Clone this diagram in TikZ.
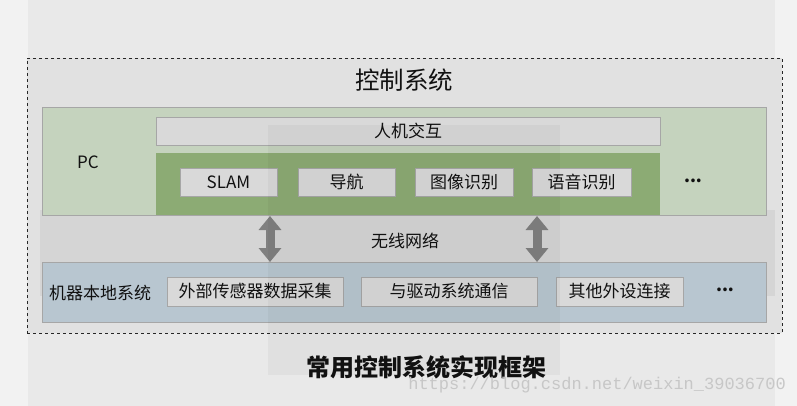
\documentclass[tikz,border=0pt]{standalone}
\usepackage{fontspec}
\setmainfont{Noto Sans CJK SC}
\newfontfamily\wmfont{Liberation Mono}
\usetikzlibrary{arrows.meta}
\definecolor{bgA}{HTML}{F2F2F2}
\definecolor{bgB}{HTML}{E9E9E9}
\definecolor{bgC}{HTML}{E1E1E1}
\definecolor{midgray}{HTML}{D5D5D5}
\definecolor{pcgreen}{HTML}{C5D3BE}
\definecolor{darkgreen}{HTML}{8CAB74}
\definecolor{bandblue}{HTML}{B8C6D0}
\definecolor{boxgray}{HTML}{D9D9D9}
\definecolor{edgegray}{HTML}{A6A6A6}
\definecolor{arrowgray}{HTML}{808080}
\definecolor{txt}{HTML}{111111}
\tikzset{
  band/.style={draw=edgegray, line width=0.8pt, inner sep=0pt, outer sep=0pt},
  itembox/.style={draw=edgegray, line width=0.8pt, fill=boxgray, inner sep=0pt, outer sep=0pt,
    minimum height=28pt, text=txt, font=\fontsize{17pt}{19pt}\selectfont},
  lbl/.style={inner sep=0pt, text=txt, font=\fontsize{17pt}{19pt}\selectfont},
  bigarrow/.style={draw=arrowgray, line width=9pt,
    {Triangle[width=22pt,length=14pt]}-{Triangle[width=22pt,length=14pt]}}
}
\begin{document}
\begin{tikzpicture}[x=1pt,y=-1pt]
\useasboundingbox (0,0) rectangle (797,406);
% background layers
\fill[bgA] (0,0) rectangle (797,406);
\fill[bgB] (28,0) rectangle (775,406);
\node[draw=black!85, dashed, line width=0.8pt, fill=bgC, inner sep=0pt, outer sep=0pt,
  minimum width=755pt, minimum height=275pt] (ctrl) at (404.5,195.5) {};
\fill[midgray] (40,210) rectangle (775,296);
\node[lbl, font=\fontsize{24.5pt}{27pt}\selectfont] (title) at (404,80) {控制系统};
% PC band
\node[band, fill=pcgreen, minimum width=724pt, minimum height=108pt] (pc) at (404,161) {};
\node[lbl, font=\fontsize{17pt}{19pt}\selectfont] (pclbl) at (88,162) {PC};
\node[itembox, minimum width=504pt] (hci) at (408,131) {人机交互};
\node[band, draw=none, fill=darkgreen, minimum width=504pt, minimum height=62pt] (algo) at (408,184) {};
\node[itembox, minimum width=97pt] (slam) at (228.5,182) {SLAM};
\node[itembox, minimum width=97pt] (nav) at (346.5,182) {导航};
\node[itembox, minimum width=98pt] (img) at (464,182) {图像识别};
\node[itembox, minimum width=99pt] (voice) at (581.5,182) {语音识别};
\node[lbl, font=\bfseries\fontsize{17pt}{19pt}\selectfont] (dots1) at (693,181) {...};
% wireless
\node[lbl] (wifi) at (405,241) {无线网络};
% local band
\node[band, fill=bandblue, minimum width=724pt, minimum height=60pt] (local) at (404,292) {};
\node[lbl] (loclbl) at (100,293) {机器本地系统};
\node[itembox, minimum width=176pt, minimum height=29pt] (sensor) at (255,291.5) {外部传感器数据采集};
\node[itembox, minimum width=176pt, minimum height=29pt] (drive) at (449,291.5) {与驱动系统通信};
\node[itembox, minimum width=127pt, minimum height=29pt] (other) at (619.5,291.5) {其他外设连接};
\node[lbl, font=\bfseries\fontsize{17pt}{19pt}\selectfont] (dots2) at (725,290) {...};
% arrows
\coordinate (a1t) at (270,216);
\coordinate (a1b) at (270,262);
\coordinate (a2t) at (537,216);
\coordinate (a2b) at (537,262);
\draw[bigarrow] (a1t) -- (a1b);
\draw[bigarrow] (a2t) -- (a2b);
% translucent overlay (screenshot artefact)
\fill[black, opacity=0.035] (268,125) rectangle (560,375);
% caption
\node[lbl, font=\bfseries\fontsize{24pt}{27pt}\selectfont] (cap) at (426,367) {常用控制系统实现框架};
\node[inner sep=0pt, text=black!22, font=\wmfont\fontsize{17pt}{19pt}\selectfont, anchor=east] (wm) at (786,385) {https://blog.csdn.net/weixin\_39036700};
\end{tikzpicture}
\end{document}
